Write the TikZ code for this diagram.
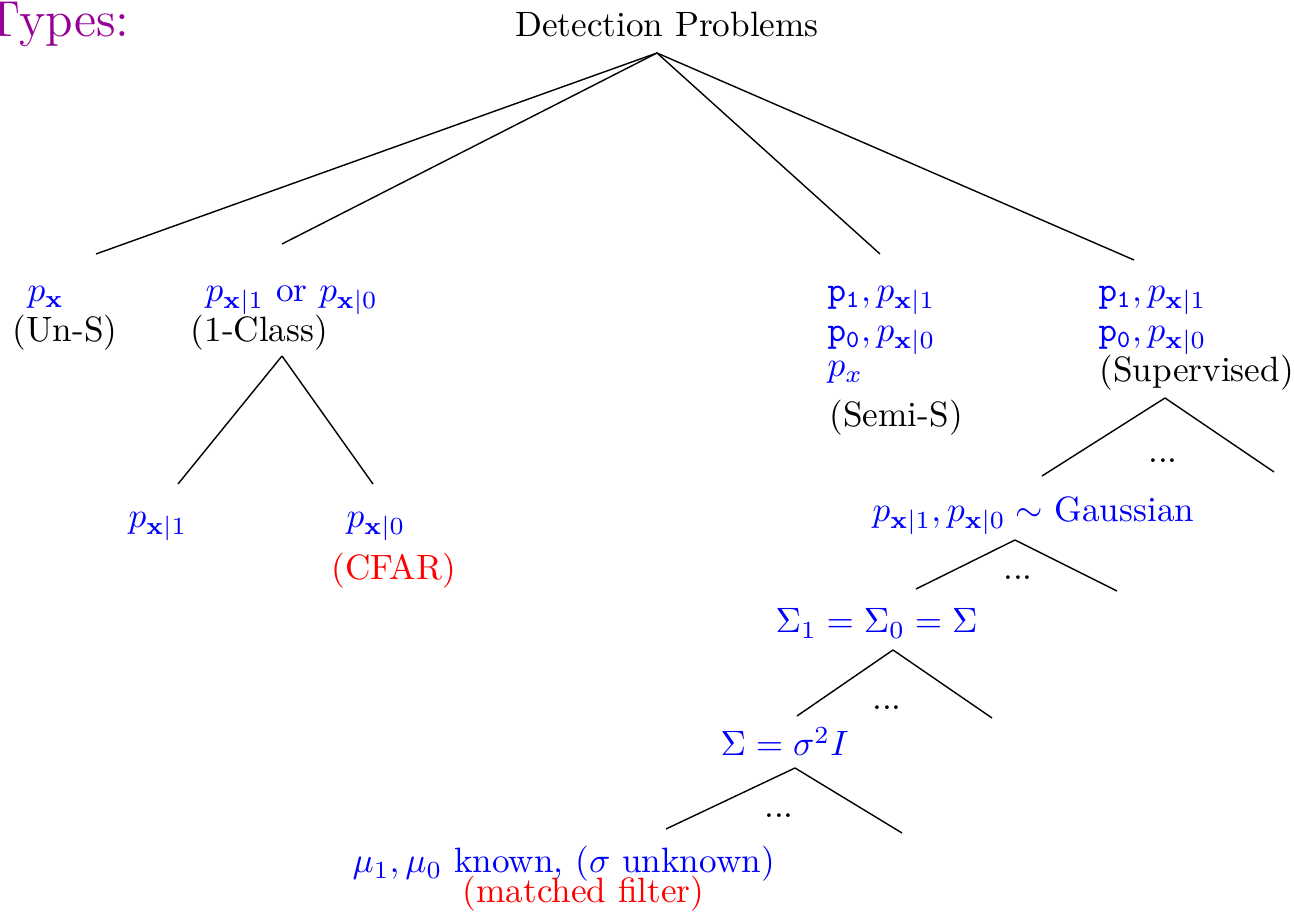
\documentclass[tikz,border=0pt]{standalone}
\definecolor{ttlpurple}{RGB}{150,0,150}
\begin{document}
\begin{tikzpicture}[x=0.284pt,y=-0.284pt,
  lbl/.style={inner sep=0pt, anchor=base west},
  ctr/.style={inner sep=0pt, anchor=base},
  bl/.style={lbl, text=blue},
  rd/.style={lbl, text=red},
  edge/.style={draw=black, line width=0.4pt}]
\useasboundingbox (0,0) rectangle (1294,918);
% title and root
\node[lbl, text=ttlpurple, font=\Large] (types) at (-16,37) {Types:};
\node[ctr] (root) at (667,37) {Detection Problems};
% level 1
\node[bl] (unsp) at (27,302) {$p_{\mathbf{x}}$};
\node[lbl] (unsl) at (12,342) {(Un-S)};
\node[bl] (onep) at (205,302) {$p_{\mathbf{x}|1}$ or $p_{\mathbf{x}|0}$};
\node[lbl] (onel) at (190,342) {(1-Class)};
\node[bl] (semia) at (827,302) {$\mathtt{p_1}, p_{\mathbf{x}|1}$};
\node[bl] (semib) at (827,342) {$\mathtt{p_0}, p_{\mathbf{x}|0}$};
\node[bl] (semic) at (827,377) {$p_x$};
\node[lbl] (semil) at (829,427) {(Semi-S)};
\node[bl] (supa) at (1098,302) {$\mathtt{p_1}, p_{\mathbf{x}|1}$};
\node[bl] (supb) at (1098,342) {$\mathtt{p_0}, p_{\mathbf{x}|0}$};
\node[lbl] (supl) at (1099,382) {(Supervised)};
% 1-class children
\node[bl] (c1) at (128,528) {$p_{\mathbf{x}|1}$};
\node[bl] (c0) at (346,528) {$p_{\mathbf{x}|0}$};
\node[rd] (cfar) at (331,580) {(CFAR)};
% supervised chain
\node[bl] (gauss) at (872,522) {$p_{\mathbf{x}|1}, p_{\mathbf{x}|0} \sim$ Gaussian};
\node[bl] (sig) at (775,633) {$\Sigma_1 = \Sigma_0 = \Sigma$};
\node[bl] (sigi) at (720,756) {$\Sigma = \sigma^2 I$};
\node[bl] (mu) at (352,873) {$\mu_1, \mu_0$ known, ($\sigma$ unknown)};
\node[rd] (mf) at (462,903) {(matched filter)};
% dots
\node[ctr] (d1) at (1163,463) {...};
\node[ctr] (d2) at (1018,580) {...};
\node[ctr] (d3) at (887,710) {...};
\node[ctr] (d4) at (779,818) {...};
% connector points
\coordinate (r0) at (657,53);
\coordinate (e1) at (96,254);
\coordinate (e2) at (282,244);
\coordinate (e3) at (880,254);
\coordinate (e4) at (1134,260);
\coordinate (o0) at (282,356);
\coordinate (o1) at (178,484);
\coordinate (o2) at (373,484);
\coordinate (s0) at (1165,398);
\coordinate (s1) at (1042,476);
\coordinate (s2) at (1274,472);
\coordinate (g0) at (1015,540);
\coordinate (g1) at (916,589);
\coordinate (g2) at (1117,591);
\coordinate (q0) at (893,650);
\coordinate (q1) at (797,716);
\coordinate (q2) at (992,718);
\coordinate (t0) at (795,768);
\coordinate (t1) at (666,829);
\coordinate (t2) at (902,833);
\draw[edge] (r0) -- (e1);
\draw[edge] (r0) -- (e2);
\draw[edge] (r0) -- (e3);
\draw[edge] (r0) -- (e4);
\draw[edge] (o0) -- (o1);
\draw[edge] (o0) -- (o2);
\draw[edge] (s0) -- (s1);
\draw[edge] (s0) -- (s2);
\draw[edge] (g0) -- (g1);
\draw[edge] (g0) -- (g2);
\draw[edge] (q0) -- (q1);
\draw[edge] (q0) -- (q2);
\draw[edge] (t0) -- (t1);
\draw[edge] (t0) -- (t2);
\end{tikzpicture}
\end{document}
